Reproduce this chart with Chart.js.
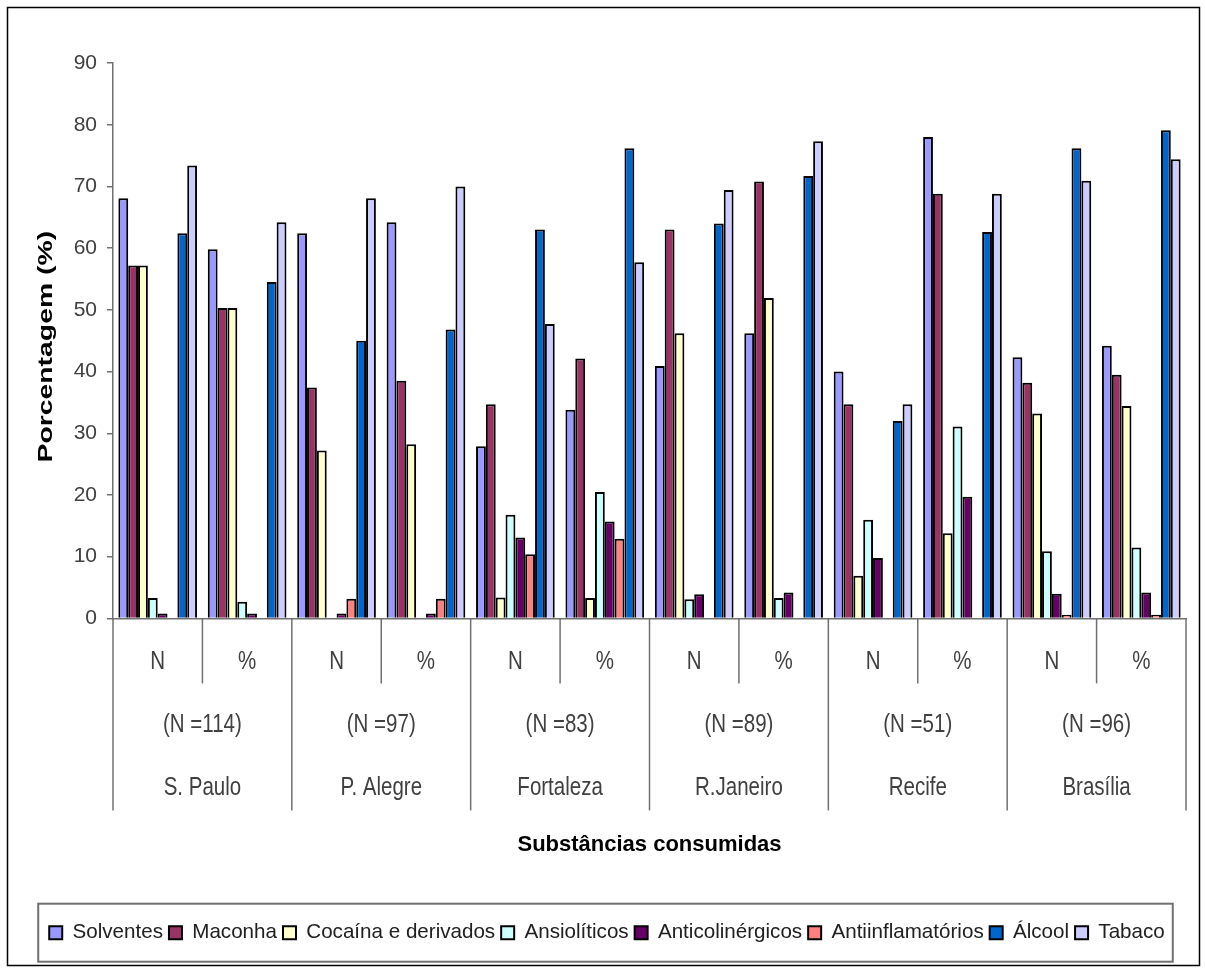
<!DOCTYPE html>
<html>
<head>
<meta charset="utf-8">
<script src="https://cdn.jsdelivr.net/npm/chart.js@4"></script>
<style>
  body { margin: 0; background: #fff; }
</style>
</head>
<body>
<canvas id="myChart" width="1205" height="969"></canvas>
<script>
const ctx = document.getElementById("myChart");

// categorias do eixo x (N / % para cada cidade)
var categorias = ["N", "%", "N", "%", "N", "%", "N", "%", "N", "%", "N", "%"];
var amostras = ["(N =114)", "(N =97)", "(N =83)", "(N =89)", "(N =51)", "(N =96)"];
var cidades = ["S. Paulo", "P. Alegre", "Fortaleza", "R.Janeiro", "Recife", "Brasília"];

// valores de cada substância
var solventes = [68.1, 59.8, 62.4, 64.2, 27.9, 33.8, 40.9, 46.2, 40.0, 78.0, 42.3, 44.2];
var maconha = [57.2, 50.3, 37.4, 38.5, 34.7, 42.1, 63.0, 70.8, 34.7, 68.8, 38.2, 39.5];
var cocaina = [57.2, 50.3, 27.2, 28.2, 3.4, 3.3, 46.2, 51.9, 6.9, 13.8, 33.2, 34.4];
var ansioliticos = [3.3, 2.7, 0, 0, 16.8, 20.5, 3.1, 3.3, 16.0, 31.1, 10.9, 11.5];
var anticolinergicos = [0.8, 0.8, 0.8, 0.8, 13.1, 15.7, 3.9, 4.2, 9.8, 19.7, 4.0, 4.2];
var antiinflamatorios = [0, 0, 3.2, 3.2, 10.4, 12.9, 0, 0, 0, 0, 0.6, 0.6];
var alcool = [62.4, 54.5, 45.0, 46.8, 63.0, 76.2, 64.0, 71.7, 32.0, 62.6, 76.2, 79.1];
var tabaco = [73.4, 64.2, 68.1, 70.0, 47.7, 57.7, 69.4, 77.3, 34.7, 68.8, 70.9, 74.4];

var yTicks = [0, 10, 20, 30, 40, 50, 60, 70, 80, 90];

// cores da série (paleta do Excel)
var cores = {
  solventes: "#9999FF",
  maconha: "#993366",
  cocaina: "#FFFFCC",
  ansioliticos: "#CCFFFF",
  anticolinergicos: "#660066",
  antiinflamatorios: "#FF8080",
  alcool: "#0066CC",
  tabaco: "#CCCCFF",
};

function serie(label, data, cor) {
  return {
    label: label,
    data: data,
    backgroundColor: cor,
    borderColor: "#000",
    borderWidth: 2,
    categoryPercentage: 0.88,
    barPercentage: 1.0,
  };
}

var textoCor = "#404040";
var fonte = "'Liberation Sans', Arial, sans-serif";

// texto estreito (simula Arial Narrow)
function textoEstreito(c, txt, x, y) {
  c.save();
  c.translate(x, y);
  c.scale(0.82, 1);
  c.fillText(txt, 0, 0);
  c.restore();
}

// desenha os rótulos de vários níveis do eixo x, o título do eixo y, a moldura e a caixa da legenda
var extras = {
  id: "extras",
  afterDraw(chart) {
    var c = chart.ctx;
    var x = chart.scales.x;
    var area = chart.chartArea;
    var base = area.bottom;
    var half = (x.getPixelForValue(1) - x.getPixelForValue(0)) / 2;

    c.save();
    // moldura externa
    c.strokeStyle = "#000";
    c.lineWidth = 1.5;
    c.strokeRect(7.5, 7.5, 1192, 958);

    c.strokeStyle = "#707070";
    c.lineWidth = 1.5;
    c.fillStyle = textoCor;
    c.font = "25px " + fonte;
    c.textAlign = "center";
    c.textBaseline = "middle";

    categorias.forEach(function (lab, i) {
      var cx = x.getPixelForValue(i);
      textoEstreito(c, lab, cx, base + 44);
      var left = cx - half;
      c.beginPath();
      c.moveTo(left, base);
      c.lineTo(left, base + (i % 2 === 0 ? 192 : 65));
      c.stroke();
    });
    var fim = x.getPixelForValue(categorias.length - 1) + half;
    c.beginPath();
    c.moveTo(fim, base);
    c.lineTo(fim, base + 192);
    c.stroke();

    cidades.forEach(function (cid, g) {
      var gx = (x.getPixelForValue(g * 2) + x.getPixelForValue(g * 2 + 1)) / 2;
      textoEstreito(c, amostras[g], gx, base + 107);
      textoEstreito(c, cid, gx, base + 170);
    });

    c.fillStyle = "#000";
    c.font = "bold 22px " + fonte;
    c.fillText("Substâncias consumidas", (area.left + area.right) / 2, base + 227);

    // título do eixo y
    c.save();
    c.translate(46, (area.top + area.bottom) / 2 + 6);
    c.rotate(-Math.PI / 2);
    c.scale(1.35, 1);
    c.font = "bold 21px " + fonte;
    c.fillText("Porcentagem (%)", 0, 0);
    c.restore();

    // caixa da legenda
    var hb = chart.legend.legendHitBoxes;
    if (hb && hb.length) {
      var l = hb[0].left - 11;
      var r = hb[hb.length - 1].left + hb[hb.length - 1].width + 8;
      var cy = hb[0].top + hb[0].height / 2;
      c.strokeStyle = "#707070";
      c.lineWidth = 2;
      c.strokeRect(l, cy - 29, r - l, 58);
    }
    c.restore();
  },
};

new Chart(ctx, {
  type: "bar",
  data: {
    labels: categorias,
    datasets: [
      serie("Solventes", solventes, cores.solventes),
      serie("Maconha", maconha, cores.maconha),
      serie("Cocaína e derivados", cocaina, cores.cocaina),
      serie("Ansiolíticos", ansioliticos, cores.ansioliticos),
      serie("Anticolinérgicos", anticolinergicos, cores.anticolinergicos),
      serie("Antiinflamatórios", antiinflamatorios, cores.antiinflamatorios),
      serie("Álcool", alcool, cores.alcool),
      serie("Tabaco", tabaco, cores.tabaco),
    ],
  },
  options: {
    responsive: false,
    animation: false,
    devicePixelRatio: 1,
    layout: {
      padding: { left: 28, right: 19, top: 63, bottom: 16 },
    },
    plugins: {
      tooltip: { enabled: false },
      legend: {
        position: "bottom",
        labels: {
          boxWidth: 13,
          boxHeight: 13,
          padding: 6,
          color: "#202020",
          font: { size: 20.6, family: fonte },
        },
      },
    },
    scales: {
      x: {
        ticks: { display: false },
        grid: { display: false },
        border: { color: "#707070", width: 1.5 },
        afterFit: function (scale) {
          scale.height = 298;
        },
      },
      y: {
        min: 0,
        max: 90,
        afterBuildTicks: function (scale) {
          scale.ticks = yTicks.map(function (v) {
            return { value: v };
          });
        },
        ticks: {
          color: textoCor,
          padding: 10,
          font: { size: 21, family: fonte },
        },
        grid: {
          drawOnChartArea: false,
          drawTicks: true,
          tickLength: 6,
          color: "#707070",
          lineWidth: 1.5,
        },
        border: { color: "#707070", width: 1.5 },
        afterFit: function (scale) {
          scale.width = 85;
        },
      },
    },
  },
  plugins: [extras],
});
</script>
</body>
</html>
